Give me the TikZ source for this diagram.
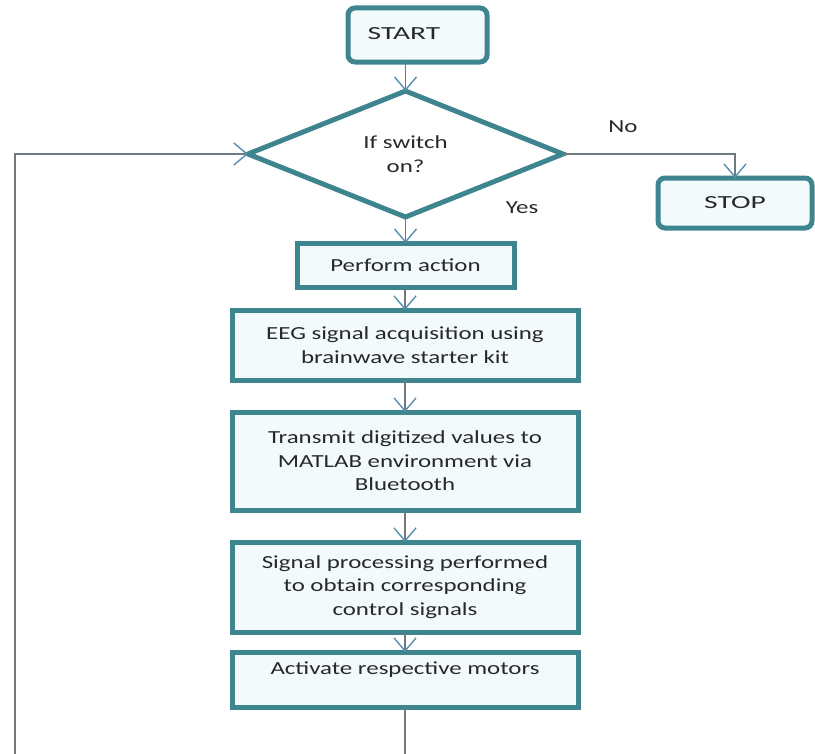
\documentclass[tikz,border=0pt]{standalone}
\usepackage{fontspec}
\setmainfont[FakeStretch=1.35]{Carlito}
\newfontfamily\widefont[FakeStretch=1.6]{Carlito}
\usetikzlibrary{shapes.geometric,arrows.meta}
\definecolor{bord}{HTML}{3E8590}
\definecolor{boxfill}{HTML}{F3FAFC}
\definecolor{lineg}{HTML}{6E7A80}
\definecolor{tipc}{HTML}{5A8EB0}
\definecolor{txt}{HTML}{282828}
\begin{document}
\begin{tikzpicture}[x=1bp,y=-1bp,
  font=\fontsize{18.5}{23.5}\selectfont,
  box/.style={draw=bord, line width=5bp, fill=boxfill, inner sep=0pt, outer sep=0pt, align=center, text=txt},
  rbox/.style={box, rounded corners=7bp},
  dia/.style={box, diamond, aspect=2.5, fill=white},
  conn/.style={draw=lineg, line width=1.6bp, -{Straight Barb[length=13bp,width=22bp,line width=1.4bp,color=tipc]}},
  lbl/.style={text=txt, inner sep=0pt}]
\useasboundingbox (0,0) rectangle (815,754);

\node[rbox, minimum width=139bp, minimum height=54bp] (start) at (417.5,35) {};
\node[lbl, font=\fontsize{18.5}{23.5}\widefont] (starttxt) at (404,34) {START};

\node[dia, minimum width=315bp, minimum height=126bp] (dia) at (405.5,154) {If switch\\on?};

\node[rbox, minimum width=154bp, minimum height=50bp, font=\fontsize{18.5}{23.5}\widefont] (stop) at (735,203) {STOP};

\node[box, minimum width=217bp, minimum height=44bp] (perf) at (405.5,265) {Perform action};
\node[box, minimum width=346bp, minimum height=70bp] (eeg) at (405,345) {EEG signal acquisition using\\brainwave starter kit};
\node[box, minimum width=346bp, minimum height=98bp] (trans) at (405,461) {Transmit digitized values to\\MATLAB environment via\\Bluetooth};
\node[box, minimum width=346bp, minimum height=90bp] (sig) at (405,587) {Signal processing performed\\to obtain corresponding\\control signals};
\node[box, minimum width=346bp, minimum height=55bp] (act) at (405,679.5) {};
\node[lbl] (acttxt) at (405,670) {Activate respective motors};

\node[lbl] (no) at (623,127) {No};
\node[lbl] (yes) at (522,208) {Yes};

\draw[conn] (start.south -| dia.north) -- (dia.north);
\draw[conn] (dia.south) -- (perf.north -| dia.south);
\draw[conn] (perf.south -| eeg.north) -- (eeg.north);
\draw[conn] (eeg.south) -- (trans.north);
\draw[conn] (trans.south) -- (sig.north);
\draw[conn] (sig.south) -- (act.north);
\draw[conn] (dia.east) -| (stop.north);
\coordinate (bl) at (15,758);
\draw[conn] (act.south) -- (act.south |- bl) -- (bl) |- (dia.west);
\end{tikzpicture}
\end{document}
